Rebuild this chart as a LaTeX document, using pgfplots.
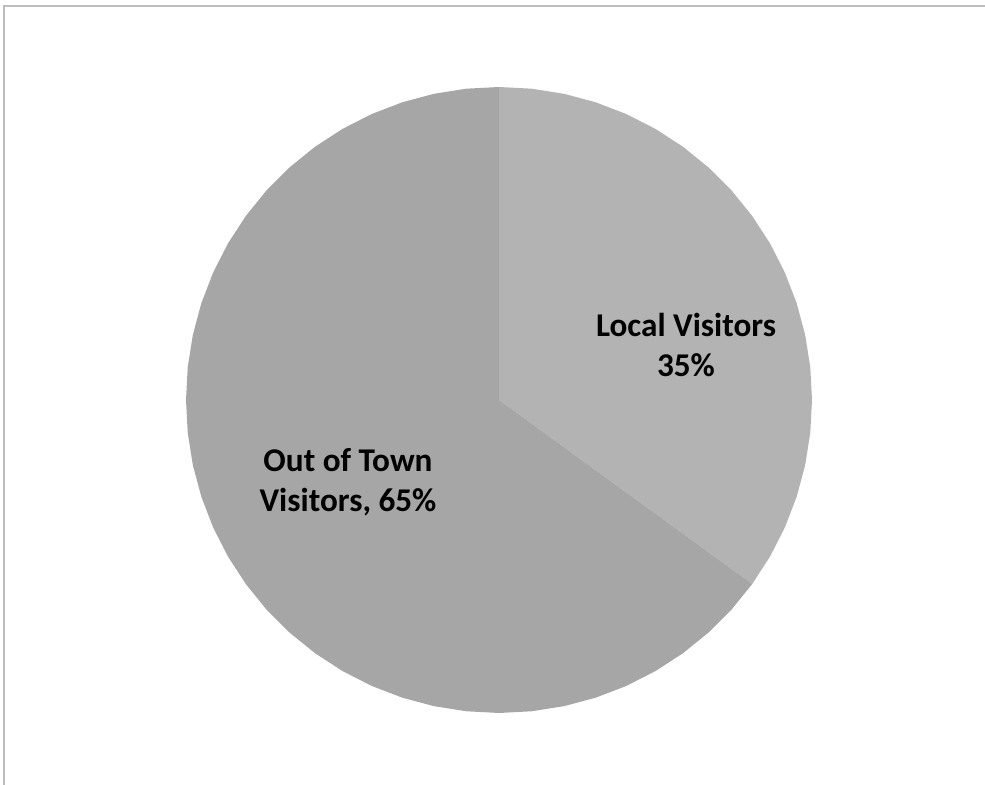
\documentclass[border=0pt]{standalone}
\usepackage{pgfplots}
\pgfplotsset{compat=1.18}
\usepackage{fontspec}
\setmainfont{Carlito}
\definecolor{localc}{HTML}{B3B3B3}
\definecolor{outc}{HTML}{A6A6A6}
\definecolor{framec}{HTML}{BDBDBD}
\begin{document}
\begin{tikzpicture}
\begin{axis}[
  at={(0pt,0pt)}, anchor=south west,
  x=0.5pt, y=0.5pt, scale only axis,
  xmin=-499, xmax=486, ymin=-385, ymax=400,
  hide axis, clip=false,
]
% Local Visitors 35% (126 degrees), clockwise from top
\addplot[data cs=polar, fill=localc, draw=none] coordinates {
(0,0) (90,313) (84,313) (78,313) (72,313) (66,313) (60,313) (54,313) (48,313)
(42,313) (36,313) (30,313) (24,313) (18,313) (12,313) (6,313) (0,313)
(-6,313) (-12,313) (-18,313) (-24,313) (-30,313) (-36,313) (0,0)
} -- cycle;
% Out of Town Visitors 65% (234 degrees)
\addplot[data cs=polar, fill=outc, draw=none] coordinates {
(0,0) (-36,313) (-42,313) (-48,313) (-54,313) (-60,313) (-66,313) (-72,313)
(-78,313) (-84,313) (-90,313) (-96,313) (-102,313) (-108,313) (-114,313)
(-120,313) (-126,313) (-132,313) (-138,313) (-144,313) (-150,313) (-156,313)
(-162,313) (-168,313) (-174,313) (-180,313) (-186,313) (-192,313) (-198,313)
(-204,313) (-210,313) (-216,313) (-222,313) (-228,313) (-234,313) (-240,313)
(-246,313) (-252,313) (-258,313) (-264,313) (-270,313) (0,0)
} -- cycle;
\draw[framec, line width=1pt] (axis cs:-495,-385) -- (axis cs:-495,394) -- (axis cs:486,394);
\node[align=center, font=\fontsize{16.6}{20}\selectfont\bfseries, text=black]
  at (axis cs:187,55) {Local Visitors\\35\%};
\node[align=center, font=\fontsize{16.6}{20}\selectfont\bfseries, text=black]
  at (axis cs:-151,-82) {Out of Town\\Visitors, 65\%};
\end{axis}
\pgfresetboundingbox
\useasboundingbox (0pt,0pt) rectangle (492.5pt,392.5pt);
\end{tikzpicture}
\end{document}
